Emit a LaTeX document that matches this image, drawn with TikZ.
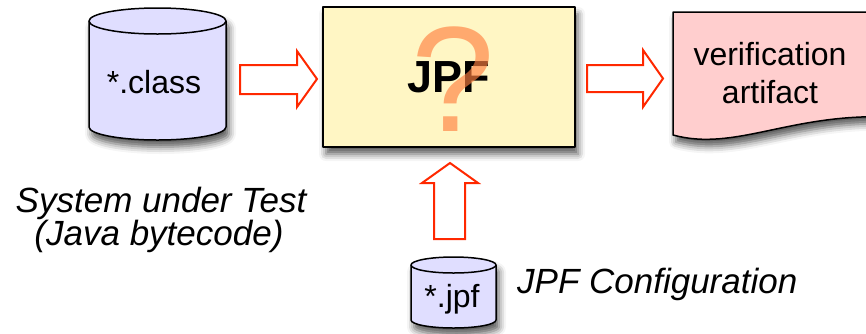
\documentclass[tikz,border=0pt]{standalone}
\usepackage{fontspec}
\setmainfont{Liberation Sans}
\usetikzlibrary{shadows.blur}

\definecolor{dbfill}{RGB}{224,222,255}
\definecolor{jpffill}{RGB}{255,246,196}
\definecolor{docfill}{RGB}{255,206,206}
\definecolor{arrowred}{RGB}{255,40,0}
\definecolor{qmark}{RGB}{255,128,64}

\tikzset{
  softshadow/.style={blur shadow={shadow xshift=3pt, shadow yshift=-7pt,
      shadow blur radius=7pt, shadow opacity=65}},
  solidline/.style={draw=black, line width=1.5pt, line join=round},
  fatarrow/.style={draw=arrowred, fill=white, line width=2pt, line join=miter},
  label/.style={font=\fontsize{32}{38}\selectfont, inner sep=0pt},
  caption/.style={font=\fontsize{35}{36}\selectfont\itshape, inner sep=0pt, align=center},
}

\begin{document}
\begin{tikzpicture}[x=1pt, y=-1pt]
  \path[use as bounding box, clip] (0,0) rectangle (866,333);

  % class-file store
  \path[solidline, fill=dbfill, softshadow]
    (89,21) -- (89,127) arc (180:360:68.5pt and 13pt) -- (226,21)
    arc (0:180:68.5pt and 13pt) -- cycle;
  \draw[solidline] (89,21) arc (180:360:68.5pt and 13pt);
  \node[label, anchor=base] (cls) at (154,93) {*.class};

  % the JPF engine
  \node[solidline, fill=jpffill, softshadow, minimum width=252pt,
        minimum height=140pt, inner sep=0pt] (jpf) at (449,77) {};
  \node[inner sep=0pt, font=\fontsize{45}{50}\selectfont\bfseries] (jpftxt)
    at (jpf.center) {JPF};
  \node[inner sep=0pt, anchor=base, text=qmark, text opacity=0.65,
        font=\fontsize{150}{150}\selectfont] (qm) at (453,131) {?};

  % verification output document
  \path[solidline, fill=docfill, softshadow]
    (673,12) -- (890,12) -- (890,117)
    .. controls (790,113) and (735,152) .. (673,135) -- cycle;
  \node[label, align=center, font=\fontsize{32}{38}\selectfont] (doc)
    at (770,73) {verification\\artifact};

  % configuration store
  \path[solidline, fill=dbfill, softshadow]
    (411,265) -- (411,320) arc (180:360:42.5pt and 8pt) -- (496,265)
    arc (0:180:42.5pt and 8pt) -- cycle;
  \draw[solidline] (411,265) arc (180:360:42.5pt and 8pt);
  \node[label, anchor=base] (cfg) at (452,307) {*.jpf};

  % input and output arrows
  \draw[fatarrow] (240,65) -- (297,65) -- (297,51) -- (317,79)
    -- (297,107) -- (297,94) -- (240,94) -- cycle;
  \draw[fatarrow] (587,65) -- (643,65) -- (643,50) -- (663,78.5)
    -- (643,107) -- (643,92) -- (587,92) -- cycle;
  \draw[fatarrow] (434,239) -- (434,183) -- (422,183) -- (450,163)
    -- (478,183) -- (465,183) -- (465,239) -- cycle;

  % captions
  \node[caption, anchor=base] (sut1) at (161,212) {System under Test};
  \node[caption, anchor=base] (sut2) at (159,245) {(Java bytecode)};
  \node[caption, anchor=base west] (cfgcap) at (517,293) {JPF Configuration};
\end{tikzpicture}
\end{document}
